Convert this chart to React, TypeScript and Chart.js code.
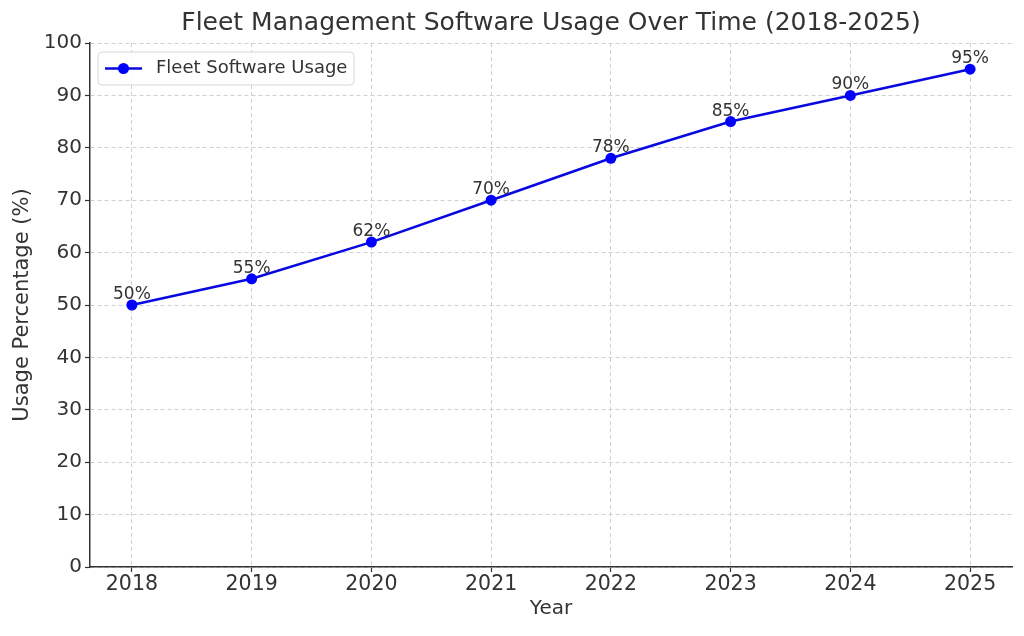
import React, { useEffect, useRef } from "react";
import { Chart, registerables } from "chart.js";

Chart.register(...registerables);

const years = [2018, 2019, 2020, 2021, 2022, 2023, 2024, 2025];
const usage = [50, 55, 62, 70, 78, 85, 90, 95];
const yTicks = [0, 10, 20, 30, 40, 50, 60, 70, 80, 90, 100];
const titleText = "Fleet Management Software Usage Over Time (2018-2025)";
const seriesLabel = "Fleet Software Usage";
const xTitle = "Year";
const yTitle = "Usage Percentage (%)";

const FONT = "'DejaVu Sans', sans-serif";
const TEXT = "#333333";
const BLUE = "#0000ff";
const LINE = "#0808e0";

const overlay = {
  id: "overlay",
  afterDatasetsDraw(chart: any) {
    const { ctx, chartArea, scales } = chart;
    const xs = scales.x;
    const ys = scales.y;
    ctx.save();
    // title
    ctx.fillStyle = TEXT;
    ctx.font = `25px ${FONT}`;
    ctx.textAlign = "center";
    ctx.textBaseline = "middle";
    ctx.fillText(titleText, (chartArea.left + chartArea.right) / 2, 23);
    // data labels
    ctx.font = `17px ${FONT}`;
    ctx.textBaseline = "alphabetic";
    years.forEach((yr, i) => {
      const px = xs.getPixelForValue(yr);
      const py = ys.getPixelForValue(usage[i]);
      ctx.fillText(`${usage[i]}%`, px, py - 6);
    });
    // legend
    const lx = 98;
    const ly = 52;
    const lw = 256;
    const lh = 33;
    ctx.beginPath();
    const r = 4;
    ctx.moveTo(lx + r, ly);
    ctx.lineTo(lx + lw - r, ly);
    ctx.quadraticCurveTo(lx + lw, ly, lx + lw, ly + r);
    ctx.lineTo(lx + lw, ly + lh - r);
    ctx.quadraticCurveTo(lx + lw, ly + lh, lx + lw - r, ly + lh);
    ctx.lineTo(lx + r, ly + lh);
    ctx.quadraticCurveTo(lx, ly + lh, lx, ly + lh - r);
    ctx.lineTo(lx, ly + r);
    ctx.quadraticCurveTo(lx, ly, lx + r, ly);
    ctx.closePath();
    ctx.fillStyle = "rgba(255,255,255,0.85)";
    ctx.fill();
    ctx.strokeStyle = "#d6d6d6";
    ctx.lineWidth = 1;
    ctx.stroke();
    const cy = ly + lh / 2;
    ctx.strokeStyle = LINE;
    ctx.lineWidth = 2.5;
    ctx.beginPath();
    ctx.moveTo(105, cy);
    ctx.lineTo(142, cy);
    ctx.stroke();
    ctx.fillStyle = BLUE;
    ctx.beginPath();
    ctx.arc(123.5, cy, 5.5, 0, Math.PI * 2);
    ctx.fill();
    ctx.fillStyle = TEXT;
    ctx.font = `18px ${FONT}`;
    ctx.textAlign = "left";
    ctx.textBaseline = "middle";
    ctx.fillText(seriesLabel, 156, cy);
    ctx.restore();
  },
};

export default function App() {
  const ref = useRef<HTMLCanvasElement>(null);
  useEffect(() => {
    const chart = new Chart(ref.current!, {
      type: "line",
      data: {
        datasets: [
          {
            label: seriesLabel,
            data: years.map((y, i) => ({ x: y, y: usage[i] })),
            borderColor: LINE,
            backgroundColor: BLUE,
            borderWidth: 2.6,
            pointRadius: 5.5,
            pointBackgroundColor: BLUE,
            pointBorderWidth: 0,
            tension: 0,
            clip: false as any,
          },
        ],
      },
      plugins: [overlay],
      options: {
        animation: false,
        responsive: false,
        maintainAspectRatio: false,
        layout: { padding: { left: 0, right: 12, top: 43, bottom: 0 } },
        plugins: {
          legend: { display: false },
          title: { display: false },
          tooltip: { enabled: false },
        },
        scales: {
          x: {
            type: "linear",
            min: 2017.65,
            max: 2025.35,
            afterBuildTicks: (scale: any) => {
              scale.ticks = years.map((v) => ({ value: v }));
            },
            afterFit: (scale: any) => {
              scale.height = 69;
            },
            ticks: {
              color: TEXT,
              font: { family: FONT, size: 20.5 },
              padding: 0,
              callback: (v: any) => String(v),
            },
            grid: {
              color: "#d0d0d0",
              tickColor: TEXT,
              tickLength: 5,
              tickWidth: 1.2,
              tickBorderDash: [],
            } as any,
            border: { display: true, color: TEXT, width: 1.5, dash: [4, 3] } as any,
            title: {
              display: true,
              text: xTitle,
              color: TEXT,
              font: { family: FONT, size: 20 },
              padding: { top: 0, bottom: 15 },
            },
          },
          y: {
            min: 0,
            max: 100,
            afterBuildTicks: (scale: any) => {
              scale.ticks = yTicks.map((v) => ({ value: v }));
            },
            afterFit: (scale: any) => {
              scale.width = 90;
            },
            ticks: {
              color: TEXT,
              font: { family: FONT, size: 20 },
              padding: 3,
            },
            grid: {
              color: "#d0d0d0",
              tickColor: TEXT,
              tickLength: 5,
              tickWidth: 1.2,
              tickBorderDash: [],
            } as any,
            border: { display: true, color: TEXT, width: 1.5, dash: [4, 3] } as any,
            title: {
              display: true,
              text: yTitle,
              color: TEXT,
              font: { family: FONT, size: 21 },
              padding: { top: 10, bottom: 0 },
            },
          },
        },
      },
    });
    return () => chart.destroy();
  }, []);
  return (
    <div style={{ position: "fixed", left: 0, top: 0, width: 1024, height: 636, background: "#fff" }}>
      <canvas ref={ref} width={1024} height={636} style={{ display: "block" }} />
    </div>
  );
}
